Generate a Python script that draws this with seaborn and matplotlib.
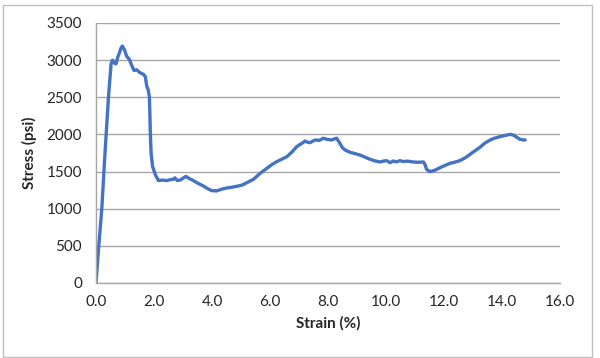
import pandas as pd
import seaborn as sns
import matplotlib.pyplot as plt
import matplotlib as mpl
from matplotlib.patches import Rectangle

strain = [0.00, 0.10, 0.20, 0.31, 0.43, 0.52, 0.57, 0.63, 0.69, 0.75, 0.80, 0.86,
          0.91, 0.98, 1.06, 1.15, 1.23, 1.31, 1.40, 1.46, 1.52, 1.63, 1.70, 1.75,
          1.80, 1.84, 1.86, 1.87, 1.90, 1.95, 2.05, 2.15, 2.30, 2.44, 2.55, 2.67,
          2.72, 2.80, 2.90, 3.00, 3.10, 3.20, 3.36, 3.50, 3.70, 3.85, 3.99, 4.16,
          4.35, 4.51, 4.70, 4.91, 5.05, 5.20, 5.43, 5.66, 5.89, 6.05, 6.23, 6.40,
          6.58, 6.75, 6.92, 7.10, 7.21, 7.30, 7.38, 7.55, 7.70, 7.84, 7.95, 8.13,
          8.22, 8.30, 8.41, 8.50, 8.59, 8.76, 8.90, 9.10, 9.30, 9.45, 9.60, 9.79,
          9.90, 10.02, 10.14, 10.25, 10.35, 10.48, 10.60, 10.75, 10.94, 11.10, 11.29,
          11.34, 11.40, 11.52, 11.70, 11.86, 12.05, 12.21, 12.40, 12.55, 12.75,
          12.90, 13.05, 13.24, 13.40, 13.59, 13.75, 13.93, 14.10, 14.28, 14.40,
          14.51, 14.62, 14.74, 14.80]
stress = [0, 520, 1000, 1750, 2500, 2950, 3000, 2960, 2950, 3040, 3090, 3160,
          3190, 3140, 3050, 3010, 2930, 2860, 2870, 2850, 2830, 2810, 2780, 2650,
          2600, 2510, 2250, 2060, 1750, 1570, 1455, 1380, 1385, 1378, 1390, 1396,
          1415, 1380, 1385, 1410, 1435, 1410, 1378, 1345, 1306, 1270, 1243, 1240,
          1265, 1279, 1290, 1306, 1320, 1350, 1396, 1476, 1543, 1590, 1633, 1665,
          1700, 1760, 1835, 1880, 1911, 1895, 1889, 1925, 1920, 1948, 1935, 1925,
          1940, 1948, 1880, 1820, 1790, 1759, 1745, 1723, 1690, 1665, 1645, 1629,
          1640, 1647, 1620, 1642, 1630, 1647, 1635, 1640, 1629, 1625, 1629, 1600,
          1530, 1499, 1520, 1552, 1585, 1611, 1630, 1647, 1690, 1732, 1775, 1826,
          1880, 1925, 1950, 1970, 1985, 2001, 1990, 1961, 1935, 1925, 1925]

x_ticks = [0, 2, 4, 6, 8, 10, 12, 14, 16]
y_ticks = [0, 500, 1000, 1500, 2000, 2500, 3000, 3500]

df = pd.DataFrame({"Strain (%)": strain, "Stress (psi)": stress})

sns.set_style("white")
mpl.rc('font', family=['Lato', 'DejaVu Sans'], size=10)

fig = plt.figure(figsize=(6, 3.58), dpi=100)
ax = fig.add_axes([0.16, 0.2095, 0.7733, 0.7263])

sns.lineplot(x="Strain (%)", y="Stress (psi)", data=df, ax=ax, color="#4472C4",
             linewidth=2.4, estimator=None, sort=False)

ax.set_xlim(0, 16)
ax.set_ylim(0, 3500)
ax.set_xticks(x_ticks)
ax.set_xticklabels([f"{v:.1f}" for v in x_ticks])
ax.set_yticks(y_ticks)
ax.yaxis.grid(True, color="#A6A6A6", linewidth=1)
ax.set_axisbelow(True)
for s in ["top", "right"]:
    ax.spines[s].set_visible(False)
for s in ["left", "bottom"]:
    ax.spines[s].set_color("#A6A6A6")
    ax.spines[s].set_linewidth(1)
ax.tick_params(axis="both", direction="out", length=5, width=1, color="#A6A6A6",
               labelsize=11, pad=4)
ax.tick_params(axis="y", pad=5)
ax.set_xlabel("Strain (%)", fontweight="bold", fontsize=11, labelpad=5)
ax.set_ylabel("Stress (psi)", fontweight="bold", fontsize=11, labelpad=7)

fig.patches.append(Rectangle((3 / 600, 1 / 358), 589 / 600, 352 / 358, transform=fig.transFigure,
                             fill=False, edgecolor="#BFBFBF", linewidth=1))

plt.savefig("out.png", dpi=100)
plt.close()
